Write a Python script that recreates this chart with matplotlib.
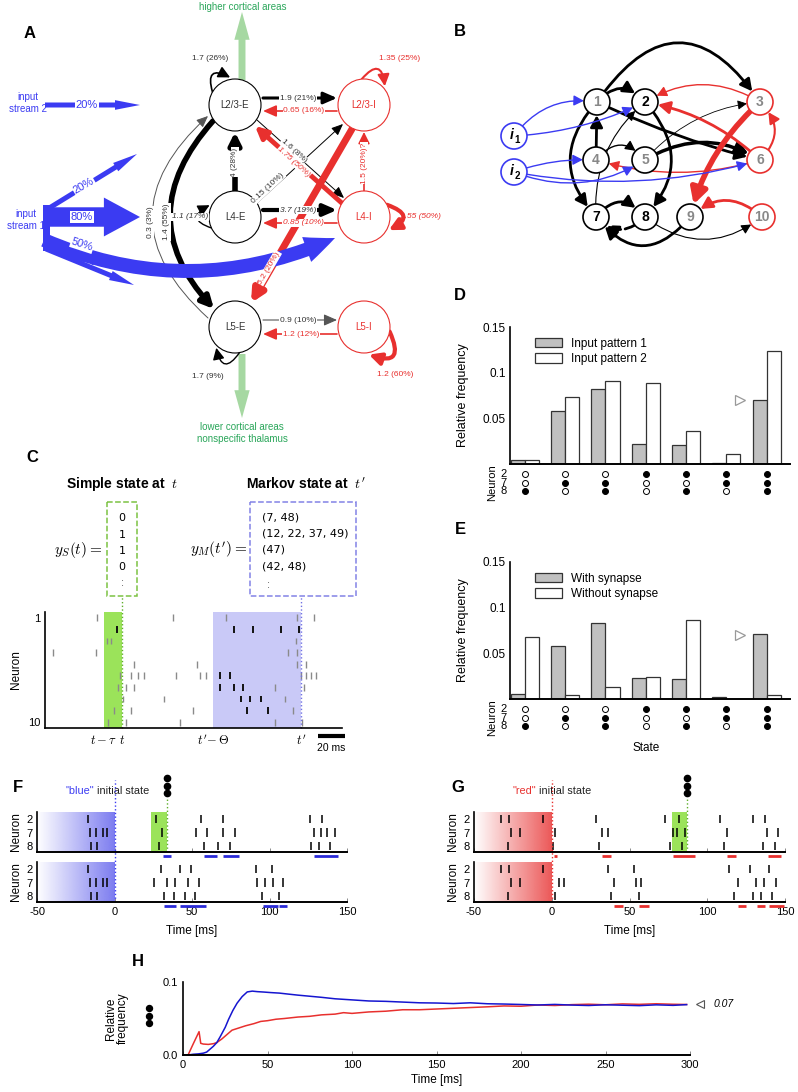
import numpy as np
import matplotlib
matplotlib.use('Agg')
import matplotlib.pyplot as plt
import matplotlib.colors as mcolors
from matplotlib.patches import Circle, FancyArrowPatch, Rectangle

plt.rcParams['font.family'] = ['Liberation Sans', 'DejaVu Sans']
plt.rcParams['mathtext.fontset'] = 'cm'

# ---------------- data ----------------
# D / E : relative frequency of the states of neurons (2, 7, 8)
state_neurons = ['2', '7', '8']
state_bits = [(0, 0, 1), (0, 1, 0), (0, 1, 1), (1, 0, 0), (1, 0, 1), (1, 1, 0), (1, 1, 1)]
input_pattern1 = [0.0045, 0.0575, 0.0825, 0.0222, 0.0203, 0.0012, 0.0705]
input_pattern2 = [0.0043, 0.0730, 0.0912, 0.0883, 0.0363, 0.0110, 0.1235]
with_synapse = [0.0058, 0.0585, 0.0835, 0.0229, 0.0214, 0.0020, 0.0712]
without_synapse = [0.0683, 0.0040, 0.0131, 0.0243, 0.0864, 0.0005, 0.0047]
marked_freq = 0.07

# C : state definitions and raster (ms)
simple_state = ['0', '1', '1', '0']
markov_state = ['(7, 48)', '(12, 22, 37, 49)', '(47)', '(42, 48)']
c_t, c_tau = 57.0, 13.3
c_tp, c_theta = 189.6, 65.0
c_spikes = [
    [38.5, 94.8, 134.0, 186.7, 199.3],
    [53.3, 140.0, 154.0, 174.8, 188.0],
    [46.0, 49.0, 186.0],
    [6.0, 37.8, 180.0, 186.7],
    [66.0, 112.6, 186.7, 193.3],
    [55.6, 63.7, 68.9, 73.3, 97.0, 114.8, 119.3, 137.0, 189.6, 193.3, 197.0, 200.7],
    [54.0, 60.0, 66.0, 130.0, 140.0, 147.0, 170.0, 192.0],
    [58.0, 88.0, 145.0, 152.0, 160.0, 178.0],
    [51.0, 64.0, 110.0, 150.0, 165.0, 184.0],
    [47.0, 60.0, 100.0, 170.0, 190.0],
]
c_dark = [[], [53.3, 140.0, 154.0, 174.8, 188.0], [], [], [], [130.0, 137.0],
          [130.0, 140.0, 147.0], [145.0, 152.0, 160.0], [150.0, 165.0], []]

# F : "blue" initial state, rows are neurons 2, 7, 8
f_top = [[-17.2, 26.8, 56.0, 70.0, 126.0, 134.0],
         [-16.1, -11.8, -7.5, -4.9, 30.7, 52.6, 59.7, 69.7, 77.7, 128.8, 133.0, 137.3, 142.0],
         [-15.0, -11.2, 29.0, 58.0, 67.0, 74.2, 127.0, 132.0, 139.0]]
f_bot = [[-17.2, 30.2, 42.0, 49.2, 91.2, 101.3],
         [-16.1, -11.8, -7.5, -4.9, 25.8, 34.0, 39.2, 47.3, 54.8, 92.2, 97.4, 102.4, 108.8],
         [-15.0, -11.2, 32.0, 38.3, 45.4, 51.8, 95.3, 106.0]]
f_top_marks = [(31, 36.5), (58, 66), (70, 80), (129, 144)]
f_bot_marks = [(32, 39.6), (42, 58.9), (95.5, 105.2), (106.3, 111.4)]
f_window = (23.7, 33.8)

# G : "red" initial state
g_top = [[-32.7, -27.4, -5.8, 28.2, 73.0, 81.8, 108.5, 129.7, 137.4],
         [-26.3, -20.3, 2.1, 32.0, 35.9, 78.0, 80.6, 85.9, 112.8, 138.5, 145.7],
         [-28.4, 1.1, 30.3, 75.9, 84.0, 110.7, 135.7, 143.6]]
g_bot = [[-32.7, -27.4, -5.8, 35.9, 53.0, 114.3, 127.6, 139.5],
         [-26.3, -20.3, 4.7, 8.1, 40.0, 54.1, 57.7, 119.7, 131.4, 136.8, 144.2],
         [-28.4, 2.1, 38.0, 56.0, 117.5, 129.7, 134.6, 141.5]]
g_top_marks = [(1.7, 3.6), (32, 38), (78, 91.9), (112.8, 118.6), (138.9, 147.4)]
g_bot_marks = [(40.2, 45.5), (56, 62.6), (119.7, 124.6), (131.8, 137.2), (139.5, 149.1)]
g_window = (77.4, 87.0)

# H : relative frequency of state (1,1,1) over time
h_t_blue = [0, 3, 6, 9, 12, 14, 16, 18, 20, 22, 25, 27, 29.5, 32, 35, 38, 41, 44, 48, 52, 57,
            62, 68, 75, 82, 90, 100, 110, 120, 130, 140, 150, 160, 170, 180, 190, 200, 210,
            220, 230, 240, 250, 260, 270, 280, 290, 298]
h_blue = [0.0, 0.0, 0.001, 0.0015, 0.0025, 0.004, 0.008, 0.012, 0.017, 0.025, 0.038, 0.049,
          0.061, 0.071, 0.080, 0.0864, 0.0875, 0.0868, 0.0862, 0.0855, 0.0848, 0.0835, 0.082,
          0.0805, 0.079, 0.077, 0.0755, 0.074, 0.0735, 0.0725, 0.0715, 0.0712, 0.0705, 0.0715,
          0.0702, 0.0698, 0.0692, 0.0685, 0.0693, 0.0684, 0.0678, 0.0688, 0.0682, 0.0676,
          0.0687, 0.0680, 0.0690]
h_t_red = [0, 3, 6, 9.5, 10.5, 12, 15, 18, 20, 23, 26, 29, 33, 37, 42, 46, 50, 55, 60, 68,
           75, 82, 90, 95, 100, 110, 120, 130, 140, 150, 160, 170, 180, 190, 200, 210, 220,
           230, 240, 250, 260, 270, 280, 290, 298]
h_red = [0.0, 0.0, 0.015, 0.032, 0.016, 0.015, 0.0145, 0.0155, 0.017, 0.022, 0.028, 0.034,
         0.037, 0.040, 0.043, 0.046, 0.047, 0.049, 0.050, 0.052, 0.053, 0.055, 0.056, 0.058,
         0.057, 0.059, 0.060, 0.062, 0.062, 0.063, 0.064, 0.065, 0.066, 0.0672, 0.0668,
         0.0685, 0.0678, 0.0690, 0.0696, 0.0688, 0.0700, 0.0694, 0.0702, 0.0695, 0.0692]
h_final = 0.07

# ---------------- figure ----------------
W, H = 798, 1092
fig = plt.figure(figsize=(W / 100, H / 100), dpi=100)

BLUE = '#3b3bf2'
RED = '#e8302e'
GREEN_LINE = '#5fae2c'
GREEN_FILL = '#9be35a'


def px_axes(x0, y0, x1, y1):
    ax = fig.add_axes([x0 / W, 1 - y1 / H, (x1 - x0) / W, (y1 - y0) / H])
    ax.patch.set_visible(False)
    return ax


ov = px_axes(0, 0, W, H)
ov.set_xlim(0, W)
ov.set_ylim(H, 0)
ov.axis('off')
ov.set_zorder(5)


def arr(p0, p1, color='k', lw=1.0, rad=0.0, hw=3.0, hl=6.0, ls='-', sa=0, sb=0, z=3):
    ov.add_patch(FancyArrowPatch(p0, p1, arrowstyle=f'-|>,head_width={hw / 10},head_length={hl / 10}',
                                 mutation_scale=10, connectionstyle=f'arc3,rad={rad}',
                                 color=color, lw=lw, linestyle=ls, shrinkA=sa, shrinkB=sb, zorder=z))


def fat(p0, p1, color, tw, hw, hl, rad=0.0, z=2):
    ov.add_patch(FancyArrowPatch(p0, p1, arrowstyle=f'simple,head_length={hl},head_width={hw},tail_width={tw}',
                                 mutation_scale=1, connectionstyle=f'arc3,rad={rad}',
                                 color=color, lw=0, shrinkA=0, shrinkB=0, zorder=z))


def lab(x, y, s, color='#333333', size=6, rot=0, style='normal', bg=True, weight='normal', ha='center'):
    ov.text(x, y, s, color=color, fontsize=size, rotation=rot, style=style, weight=weight,
            ha=ha, va='center', rotation_mode='anchor', zorder=7,
            bbox=dict(fc='white', ec='none', pad=0.5) if bg else None)


def node(x, y, r, s, ec, tc, size, weight='normal', lw=0.8):
    ov.add_patch(Circle((x, y), r, fc='white', ec=ec, lw=lw, zorder=4))
    ov.text(x, y, s, color=tc, fontsize=size, weight=weight, ha='center', va='center', zorder=5)


def self_loop(c, r, a0, a1, color, lw, rad=-1.15):
    p0 = (c[0] + r * np.cos(np.radians(a0)), c[1] - r * np.sin(np.radians(a0)))
    p1 = (c[0] + (r + 2) * np.cos(np.radians(a1)), c[1] - (r + 2) * np.sin(np.radians(a1)))
    arr(p0, p1, color, lw, rad=rad, hw=3.5, hl=7)


# ---- panel labels ----
for s, x, y in [('A', 30, 33), ('B', 460, 32), ('C', 32, 458), ('D', 460, 295),
                ('E', 460, 530), ('F', 18, 788), ('G', 458, 788), ('H', 138, 962)]:
    ov.text(x, y, s, fontsize=12, weight='bold', ha='center', va='center')

# ---- panel A : cortical microcircuit ----
R = 26
A_nodes = {'L2/3-E': (235, 105, 'k'), 'L2/3-I': (364, 105, RED),
           'L4-E': (235, 217, 'k'), 'L4-I': (364, 217, RED),
           'L5-E': (235, 327, 'k'), 'L5-I': (364, 327, RED)}
for name, (x, y, c) in A_nodes.items():
    node(x, y, R, name, c, '#333333' if c == 'k' else RED, 7)

GREEN_ARROW = '#a6d8a2'
fat((242, 80), (242, 12), GREEN_ARROW, 5, 11, 20)
fat((242, 354), (242, 418), GREEN_ARROW, 5, 11, 20)
lab(243, 7, 'higher cortical areas', '#2aa65a', 7, bg=False)
lab(242, 427, 'lower cortical areas', '#2aa65a', 7, bg=False)
lab(242, 439, 'nonspecific thalamus', '#2aa65a', 7, bg=False)

# horizontal E <-> I
arr((263, 98), (337, 98), 'k', 2.2, hw=3.5, hl=8)
lab(298, 98, '1.9 (21%)')
arr((337, 111), (263, 111), RED, 1.2, hw=3.5, hl=8)
lab(304, 111, '0.65 (16%)', RED)
arr((263, 210), (337, 210), 'k', 3, hw=3.5, hl=8)
lab(298, 210, '3.7 (19%)', style='italic')
arr((337, 223), (263, 223), RED, 1.2, hw=3.5, hl=8)
lab(303, 223, '0.85 (10%)', RED, style='italic')
arr((263, 320), (337, 320), '#555555', 0.8, hw=3.5, hl=8)
lab(298, 320, '0.9 (10%)')
arr((337, 334), (263, 334), RED, 1.2, hw=3.5, hl=8)
lab(301, 334, '1.2 (12%)', RED)
# vertical / diagonal
arr((235, 191), (235, 132), 'k', 4, hw=3.5, hl=7)
lab(235, 162, '4 (28%)', rot=90)
arr((364, 191), (364, 132), RED, 1.2, hw=3.5, hl=7)
lab(364, 163, '1.5 (20%)?', RED, rot=90)
arr((257, 120), (344, 198), 'k', 0.7, hw=3, hl=7)
lab(294, 151, '1.6 (8%)', rot=-42)
arr((257, 203), (343, 124), 'k', 0.7, hw=3, hl=7)
lab(268, 188, '0.15 (10%)', rot=43)
arr((344, 205), (255, 126), RED, 3.5, hw=3.5, hl=7)
lab(294, 162, '1.75 (50%)', RED, rot=-42, style='italic')
arr((352, 129), (251, 303), RED, 5, hw=3.5, hl=7)
lab(269, 268, '5.2 (20%)', RED, rot=60)
arr((213, 121), (214, 309), 'k', 4, rad=0.45, hw=3.5, hl=7)
lab(167, 222, '1.4 (55%)', rot=90)
arr((208, 318), (208, 116), '#555555', 0.7, rad=-0.55, hw=3, hl=7)
lab(150, 222, '0.3 (3%)', rot=90)
# self loops
self_loop((235, 105), R, 150, 100, 'k', 1.2)
lab(210, 58, '1.7 (26%)', bg=False)
self_loop((235, 217), R, 205, 155, 'k', 1.0)
lab(190, 217, '1.1 (17%)', style='italic', bg=True)
self_loop((235, 327), R, 280, 228, 'k', 1.0)
lab(208, 376, '1.7 (9%)', bg=False)
self_loop((364, 105), R, 95, 42, RED, 1.5)
lab(400, 58, '1.35 (25%)', RED, bg=False)
self_loop((364, 217), R, 28, -28, RED, 3)
lab(420, 217, '1.55 (50%)', RED, style='italic', bg=False)
self_loop((364, 327), R, -10, -80, RED, 3)
lab(395, 375, '1.2 (60%)', RED, bg=False)
# input streams
lab(28, 103, 'input\nstream 2', BLUE, 7, bg=False)
lab(26, 220, 'input\nstream 1', BLUE, 7, bg=False)
fat((45, 105), (140, 105), BLUE, 3.6, 7, 18)
lab(87, 105, '20%', BLUE, 8)
ov.add_patch(Rectangle((43, 205), 7, 46, color=BLUE, lw=0, zorder=2))
fat((46, 210), (137, 154), BLUE, 3.6, 7, 18)
lab(84, 186, '20%', BLUE, 8, rot=30)
fat((44, 217), (140, 217), BLUE, 14, 28, 26)
lab(82, 217, '80%', BLUE, 8)
fat((44, 240), (335, 238), BLUE, 10, 19, 22, rad=0.22, z=3.5)
lab(82, 245, '50%', BLUE, 8, rot=-18)
fat((46, 249), (134, 285), BLUE, 3.6, 7, 18)
lab(85, 260, '10%', BLUE, 8, rot=-18, bg=False)

# ---- panel B : network graph ----
rB = 13
B_nodes = {'1': (597, 102, 'k', '#888888'), '2': (645, 102, 'k', 'k'), '3': (760, 102, RED, '#888888'),
           '4': (596, 160, 'k', '#888888'), '5': (645, 160, 'k', '#888888'), '6': (760, 160, RED, '#888888'),
           '7': (596, 217, 'k', 'k'), '8': (645, 217, 'k', 'k'), '9': (690, 217, 'k', '#888888'),
           '10': (762, 217, RED, '#888888'), 'i1': (514, 136, BLUE, 'k'), 'i2': (514, 172, BLUE, 'k')}
B_edges = [('1', '2', 'k', 2.0, -0.55, '-'), ('1', '3', 'k', 2.0, -0.72, '-'), ('3', '2', RED, 1.0, 0.3, '-'),
           ('1', '6', 'k', 2.0, 0.05, '-'), ('5', '6', 'k', 2.5, -0.3, '-'), ('4', '1', 'k', 2.0, 0.0, '-'),
           ('4', '5', 'k', 1.0, -0.6, '-'), ('7', '2', 'k', 0.8, -0.25, '-'), ('5', '3', 'k', 0.6, -0.2, '-'),
           ('6', '2', RED, 2.0, 0.15, '-'), ('6', '3', RED, 1.5, 0.5, '-'), ('3', '9', RED, 4.0, 0.15, '-'),
           ('10', '9', RED, 2.0, 0.45, '-'), ('6', '4', RED, 1.0, -0.15, '-'), ('2', '8', 'k', 2.0, -0.45, '-'),
           ('1', '7', 'k', 2.0, 0.45, '-'), ('7', '8', 'k', 2.0, -0.6, '-'), ('8', '7', 'k', 2.0, -0.5, '--'),
           ('9', '7', 'k', 2.0, -0.6, '-'), ('8', '10', 'k', 0.8, 0.38, '-'),
           ('i1', '1', BLUE, 1.0, -0.3, '-'), ('i1', '2', BLUE, 1.0, 0.1, '-'), ('i2', '4', BLUE, 1.0, -0.1, '-'),
           ('i2', '5', BLUE, 1.0, 0.25, '-'), ('i2', '6', BLUE, 1.0, 0.12, '-')]
for a, b, c, lw, rad, ls in B_edges:
    pa, pb = B_nodes[a], B_nodes[b]
    arr(pa[:2], pb[:2], c, lw, rad=rad, hw=2.5 + lw * 0.6, hl=5 + lw, ls=ls, sa=9.5, sb=9.5)
for k, (x, y, ec, tc) in B_nodes.items():
    if k.startswith('i'):
        node(x, y, rB, '', ec, tc, 9, lw=1.2)
        ov.text(x - 2, y - 1, 'i', style='italic', weight='bold', fontsize=10, ha='center', va='center', zorder=6)
        ov.text(x + 3, y + 4, k[1], weight='bold', fontsize=7, ha='center', va='center', zorder=6)
    else:
        node(x, y, rB, k, ec, tc, 10, weight='bold', lw=1.2)

# ---- panel C : state definitions ----
ov.text(122, 484, r'Simple state at  $t$', fontsize=10, weight='bold', ha='center', va='center')
ov.text(306, 484, r"Markov state at  $t'$", fontsize=10, weight='bold', ha='center', va='center')
ov.add_patch(Rectangle((107, 502), 30, 94, fill=False, ec='#7cc242', ls='--', lw=1.1))
ov.add_patch(Rectangle((250, 502), 106, 94, fill=False, ec='#8383e6', ls='--', lw=1.1))
for i, s in enumerate(simple_state):
    ov.text(122, 518 + 16.5 * i, s, fontsize=8, ha='center', va='center', family='DejaVu Sans')
ov.text(122, 583, ':', fontsize=8, ha='center', va='center', color='#555555')
for i, s in enumerate(markov_state):
    ov.text(262, 517 + 16.5 * i, s, fontsize=8, ha='left', va='center', family='DejaVu Sans')
ov.text(268, 585, ':', fontsize=8, ha='center', va='center', color='#555555')
ov.text(102, 550, r'$y_S(t) =$', fontsize=11, ha='right', va='center')
ov.text(247, 550, r"$y_M(t') =$", fontsize=11, ha='right', va='center')

# C raster
axc = px_axes(45, 612, 342, 728)
for i, row in enumerate(c_spikes):
    light = [s for s in row if s not in c_dark[i]]
    axc.vlines(light, i + 1 - 0.3, i + 1 + 0.3, color='#8a8a8a', lw=1.0)
    axc.vlines(c_dark[i], i + 1 - 0.3, i + 1 + 0.3, color='#111111', lw=1.4)
axc.axvspan(c_t - c_tau, c_t, color=GREEN_FILL, lw=0, zorder=0)
axc.axvspan(c_tp - c_theta, c_tp, color='#c9c9f7', lw=0, zorder=0)
axc.plot([c_t, c_t], [10.5, -0.9], ls=':', color=GREEN_LINE, lw=1, clip_on=False)
axc.plot([c_tp, c_tp], [10.5, -0.9], ls=':', color='#7272e4', lw=1, clip_on=False)
axc.set_xlim(0, 220)
axc.set_ylim(10.5, 0.5)
axc.set_yticks([1, 10])
axc.set_yticklabels(['1', '10'], fontsize=8)
axc.set_xticks([])
axc.tick_params(length=0)
axc.set_ylabel('Neuron', fontsize=8.5, labelpad=4)
for sp in ['top', 'right']:
    axc.spines[sp].set_visible(False)
axc.spines['left'].set_linewidth(1.2)
axc.spines['bottom'].set_linewidth(1.2)
for xv, s in [(c_t - c_tau, r'$t-\tau$'), (c_t, r'$t$'), (c_tp - c_theta, r"$t'\!-\Theta$"), (c_tp, r"$t'$")]:
    axc.text(xv, 11.6, s, fontsize=9, ha='center', va='center', clip_on=False)
axc.plot([202, 222], [11.2, 11.2], color='k', lw=3, clip_on=False, solid_capstyle='butt')
axc.text(212, 12.2, '20 ms', fontsize=7.5, ha='center', va='center', clip_on=False)


# ---- panels D / E ----
def state_bars(box, vals1, vals2, names, xlabel):
    ax = px_axes(*box)
    x = np.arange(len(vals1))
    ax.bar(x - 0.175, vals1, 0.35, color='#c0c0c0', edgecolor='#333333', lw=0.9, label=names[0])
    ax.bar(x + 0.175, vals2, 0.35, color='white', edgecolor='#333333', lw=0.9, label=names[1])
    ax.plot(x[-1] - 0.66, marked_freq, marker='>', ms=7, mfc='white', mec='#999999', mew=0.9)
    ax.set_xlim(-0.37, 6.58)
    ax.set_ylim(0, 0.15)
    ax.set_yticks([0.05, 0.1, 0.15])
    ax.set_yticklabels(['0.05', '0.1', '0.15'], fontsize=8.5)
    ax.set_xticks([])
    ax.tick_params(length=0, pad=3)
    ax.set_ylabel('Relative frequency', fontsize=9, labelpad=10)
    for sp in ['top', 'right']:
        ax.spines[sp].set_visible(False)
    ax.spines['left'].set_linewidth(1.2)
    ax.spines['bottom'].set_linewidth(1.4)
    tr = ax.get_xaxis_transform()
    rows_y = [-0.075, -0.137, -0.2]
    for i, bits in enumerate(state_bits):
        for j, b in enumerate(bits):
            ax.plot(i, rows_y[j], 'o', ms=4.3, mfc='k' if b else 'white', mec='k', mew=0.7,
                    transform=tr, clip_on=False)
    for j, n in enumerate(state_neurons):
        ax.text(-0.52, rows_y[j], n, fontsize=8, ha='center', va='center', transform=tr)
    ax.text(-0.82, rows_y[1], 'Neuron', fontsize=8, rotation=90, ha='center', va='center', transform=tr)
    ax.legend(loc='upper left', bbox_to_anchor=(0.05, 1.0), frameon=False, fontsize=8.5,
              handlelength=2.3, handleheight=0.9, labelspacing=0.3)
    if xlabel:
        ax.text(3.0, -0.36, xlabel, fontsize=8.5, ha='center', va='center', transform=tr)
    return ax


state_bars((510, 327, 790, 464), input_pattern1, input_pattern2, ['Input pattern 1', 'Input pattern 2'], None)
state_bars((510, 562, 790, 699), with_synapse, without_synapse, ['With synapse', 'Without synapse'], 'State')


# ---- panels F / G ----
def gradient(ax, color, y0, y1):
    img = np.zeros((1, 256, 4))
    img[..., :3] = mcolors.to_rgb(color)
    img[..., 3] = np.linspace(0, 1, 256)
    ax.imshow(img, extent=[-50, 0, y0, y1], aspect='auto', zorder=0, interpolation='bilinear')


def raster(box, spikes, marks, fill, mark_color, window, bottom, title, title_color, title_x):
    ax = px_axes(*box)
    ylo, yhi = 0.56, 3.52
    gradient(ax, fill, ylo, yhi)
    for j, row in enumerate(spikes):
        ax.vlines(row, 3 - j - 0.3, 3 - j + 0.3, color='k', lw=1.1)
    for a, b in marks:
        ax.plot([a, b], [0.27, 0.27], color=mark_color, lw=2, clip_on=False, solid_capstyle='butt')
    ax.set_xlim(-50, 150)
    ax.set_ylim(ylo, yhi)
    ax.set_yticks([3, 2, 1])
    ax.set_yticklabels(state_neurons, fontsize=8)
    ax.set_xticks([-50, 0, 50, 100, 150])
    ax.tick_params(axis='y', length=0, pad=3)
    ax.tick_params(axis='x', direction='in', length=3, width=0.6, color='#777777')
    if bottom:
        ax.set_xticklabels(['-50', '0', '50', '100', '150'], fontsize=8)
        ax.set_xlabel('Time [ms]', fontsize=8.5, labelpad=6)
        ax.plot([0, 0], [ylo, 9.6], ls=':', color=title_color, lw=1, clip_on=False)
    else:
        ax.set_xticklabels([])
        ax.axvspan(window[0], window[1], ymax=1.0, color=GREEN_FILL, lw=0, zorder=0)
        ax.plot([window[1], window[1]], [ylo, 4.6], ls=':', color=GREEN_LINE, lw=1, clip_on=False)
        for k in range(3):
            ax.plot(window[1], 6.0 - 0.55 * k, 'o', color='k', ms=4.5, clip_on=False)
        ax.text(title_x, 5.05, title[0], color=title_color, fontsize=7.8, ha='right', va='center',
                clip_on=False)
        ax.text(title_x, 5.05, ' ' + title[1], color='#222222', fontsize=7.8, ha='left', va='center',
                clip_on=False)
    ax.set_ylabel('Neuron', fontsize=8.5, labelpad=3)
    for sp in ['top', 'right']:
        ax.spines[sp].set_visible(False)
    ax.spines['left'].set_linewidth(1.2)
    ax.spines['bottom'].set_linewidth(1.4)
    return ax


raster((37, 812, 347, 852), f_top, f_top_marks, '#7c7cf0', '#2a2ad8', f_window, False,
       ['"blue"', 'initial state'], BLUE, -13)
raster((37, 862, 347, 902), f_bot, f_bot_marks, '#7c7cf0', '#2a2ad8', f_window, True, None, BLUE, 0)
raster((474, 812, 785, 852), g_top, g_top_marks, '#ec5858', RED, g_window, False,
       ['"red"', 'initial state'], RED, -10)
raster((474, 862, 785, 902), g_bot, g_bot_marks, '#ec5858', RED, g_window, True, None, RED, 0)

# ---- panel H ----
axh = px_axes(183, 982, 690, 1055)
axh.plot(h_t_red, h_red, color=RED, lw=1.1)
axh.plot(h_t_blue, h_blue, color='#1515d0', lw=1.1)
axh.set_xlim(0, 300)
axh.set_ylim(0, 0.1)
axh.set_xticks([0, 50, 100, 150, 200, 250, 300])
axh.set_xticklabels(['0', '50', '100', '150', '200', '250', '300'], fontsize=8)
axh.set_yticks([0, 0.1])
axh.set_yticklabels(['0.0', '0.1'], fontsize=8)
axh.tick_params(direction='in', length=3, width=0.6, color='#777777')
axh.tick_params(axis='y', length=0)
axh.set_xlabel('Time [ms]', fontsize=8.5, labelpad=3)
for sp in ['top', 'right']:
    axh.spines[sp].set_visible(False)
axh.spines['left'].set_linewidth(1.2)
axh.spines['bottom'].set_linewidth(1.4)
axh.text(-0.13, 0.5, 'Relative\nfrequency', fontsize=8.5, rotation=90, ha='center', va='center',
         transform=axh.transAxes, linespacing=1.0)
for k in range(3):
    axh.plot(-0.068, 0.64 - 0.1 * k, 'o', color='k', ms=4.3, transform=axh.transAxes, clip_on=False)
axh.plot(306, h_final, marker='<', ms=6, mfc='white', mec='#555555', mew=0.8, clip_on=False)
axh.text(314, h_final, '0.07', fontsize=7.5, style='italic', ha='left', va='center', clip_on=False)

fig.savefig('out.png', dpi=100)
